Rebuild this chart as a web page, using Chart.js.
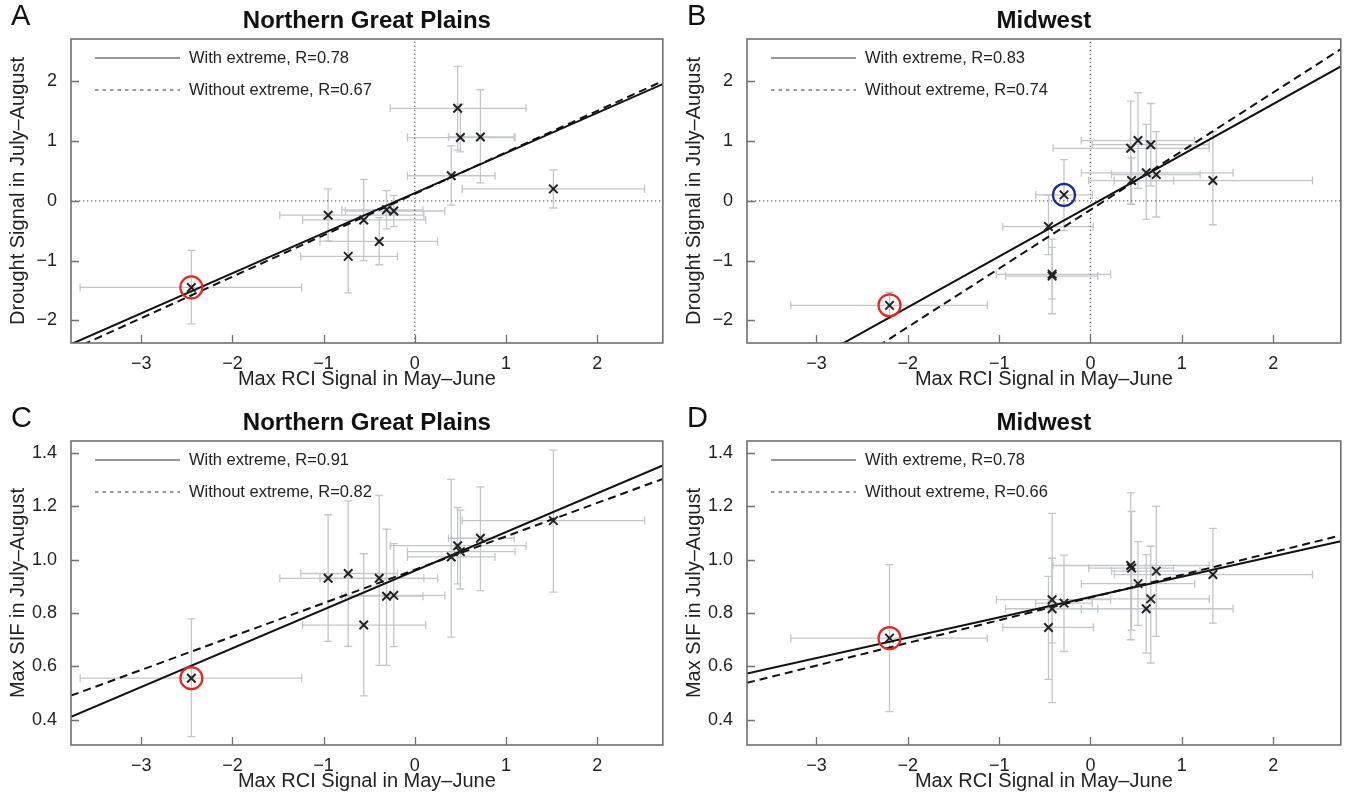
<!DOCTYPE html>
<html>
<head>
<meta charset="utf-8">
<script src="https://cdn.jsdelivr.net/npm/chart.js@4.4.1/dist/chart.umd.min.js"></script>
<style>
    html, body { margin: 0; padding: 0; background: #fff; }
    body { width: 1354px; height: 798px; position: relative; overflow: hidden; }
    .panel { position: absolute; }
</style>
</head>
<body>
<div class="panel" style="left:0px;top:0px"><canvas id="chartA" width="676" height="396"></canvas></div>
<div class="panel" style="left:676px;top:0px"><canvas id="chartB" width="678" height="396"></canvas></div>
<div class="panel" style="left:0px;top:402px"><canvas id="chartC" width="676" height="396"></canvas></div>
<div class="panel" style="left:676px;top:402px"><canvas id="chartD" width="678" height="396"></canvas></div>
<script>
// Northern Great Plains: RCI signal (x) with its range, shared by panels A and C
const rciNGP   = [-2.45, -0.95, -0.73, -0.56, -0.39, -0.31, -0.23, 0.40, 0.47, 0.50, 0.72, 1.52];
const rciNGPLo = [-3.67, -1.48, -1.25, -1.23, -1.04, -0.80, -0.76, -0.08, -0.27, -0.08, 0.37, 0.52];
const rciNGPHi = [-1.24, 0.10, -0.19, 0.12, 0.25, 0.09, 0.33, 0.88, 1.22, 1.10, 1.09, 2.52];

// Panel A: drought signal
const droughtNGP   = [-1.45, -0.24, -0.93, -0.32, -0.68, -0.15, -0.17, 0.42, 1.55, 1.06, 1.07, 0.20];
const droughtNGPLo = [-2.06, -0.67, -1.54, -1.00, -1.07, -0.47, -0.43, -0.07, 0.85, 0.82, 0.30, -0.12];
const droughtNGPHi = [-0.83, 0.20, -0.33, 0.36, -0.28, 0.17, 0.09, 0.92, 2.25, 1.62, 1.86, 0.52];

// Panel C: max SIF
const sifNGP   = [0.556, 0.930, 0.948, 0.755, 0.930, 0.863, 0.866, 1.010, 1.052, 1.030, 1.080, 1.146];
const sifNGPLo = [0.337, 0.694, 0.675, 0.490, 0.604, 0.604, 0.674, 0.710, 0.909, 0.890, 0.884, 0.878];
const sifNGPHi = [0.778, 1.168, 1.220, 1.022, 1.240, 1.114, 1.060, 1.300, 1.195, 1.185, 1.272, 1.410];

// Midwest: RCI signal (x), shared by panels B and D
const rciMW   = [-2.20, -0.29, -0.46, -0.42, -0.42, 0.44, 0.52, 0.66, 0.45, 0.61, 0.72, 1.34];
const rciMWLo = [-3.28, -0.60, -0.96, -1.03, -0.93, -0.41, -0.10, 0.02, -0.02, -0.10, 0.23, 0.26];
const rciMWHi = [-1.13, 0.02, 0.03, 0.22, 0.08, 1.30, 1.14, 1.30, 0.91, 1.56, 1.20, 2.43];

// Panel B: drought signal
const droughtMW   = [-1.75, 0.10, -0.43, -1.23, -1.26, 0.88, 1.01, 0.94, 0.34, 0.47, 0.44, 0.34];
const droughtMWLo = [-1.97, -0.50, -0.90, -1.89, -1.64, -0.05, 0.21, 0.25, -0.06, -0.31, -0.27, -0.40];
const droughtMWHi = [-1.53, 0.69, 0.10, -0.64, -0.78, 1.67, 1.81, 1.63, 0.72, 1.28, 1.16, 1.16];

// Panel D: max SIF
const sifMW   = [0.706, 0.837, 0.746, 0.850, 0.816, 0.978, 0.910, 0.853, 0.968, 0.816, 0.957, 0.944];
const sifMWLo = [0.431, 0.656, 0.552, 0.465, 0.688, 0.700, 0.754, 0.613, 0.735, 0.650, 0.713, 0.762];
const sifMWHi = [0.981, 1.017, 0.937, 1.173, 1.005, 1.250, 1.067, 1.050, 1.180, 1.019, 1.199, 1.117];

// regression fits per panel A, B, C, D
const slopeWith        = [0.671, 0.851, 0.145, 0.0762];
const interceptWith    = [0.130, -0.080, 0.958, 0.860];
const slopeWithout     = [0.694, 0.982, 0.125, 0.0849];
const interceptWithout = [0.118, -0.150, 0.962, 0.858];
const rWith    = ['0.78', '0.83', '0.91', '0.78'];
const rWithout = ['0.67', '0.74', '0.82', '0.66'];

// tick labels
const rciTicks = [-3, -2, -1, 0, 1, 2];
const droughtTicks = [-2, -1, 0, 1, 2];
const sifTicks = [0.4, 0.6, 0.8, 1.0, 1.2, 1.4];

const FONT = '"Liberation Sans", Arial, Helvetica, sans-serif';
const minus = v => (v < 0 ? '\u2212' : '') + Math.abs(v);

function makePanel(id, n, p) {
    const pts = p.x.map((v, i) => ({ x: v, y: p.y[i] }));
    const fitLine = (m, b) => [{ x: p.xMin, y: b + m * p.xMin }, { x: p.xMax, y: b + m * p.xMax }];

    const datasets = [
        { data: pts, showLine: false, pointStyle: 'crossRot', pointRadius: 6,
          pointBorderColor: '#222', pointBorderWidth: 2, order: 0 },
        { data: p.circled.map(c => pts[c]), showLine: false, pointStyle: 'circle', pointRadius: 11,
          pointBorderColor: p.circleColors, pointBackgroundColor: 'rgba(0,0,0,0)', pointBorderWidth: 2.2, order: 1 },
        { data: fitLine(slopeWith[n], interceptWith[n]), showLine: true, pointRadius: 0,
          borderColor: '#111', borderWidth: 2, order: 2 },
        { data: fitLine(slopeWithout[n], interceptWithout[n]), showLine: true, pointRadius: 0,
          borderColor: '#111', borderWidth: 2, borderDash: [8, 5], order: 2 }
    ];
    if (p.zeroLines) {
        datasets.push({ data: [{ x: 0, y: p.yMin }, { x: 0, y: p.yMax }], showLine: true, pointRadius: 0,
            borderColor: '#666', borderWidth: 1.2, borderDash: [1.3, 2.7], order: 3 });
        datasets.push({ data: [{ x: p.xMin, y: 0 }, { x: p.xMax, y: 0 }], showLine: true, pointRadius: 0,
            borderColor: '#666', borderWidth: 1.2, borderDash: [1.3, 2.7], order: 3 });
    }

    // error bars, frame, inward ticks, legend and panel letter
    const decor = {
        id: 'decor' + id,
        beforeDatasetsDraw(chart) {
            const { ctx, chartArea: a, scales: { x, y } } = chart;
            ctx.save();
            ctx.beginPath();
            ctx.rect(a.left, a.top, a.width, a.height);
            ctx.clip();
            ctx.strokeStyle = '#c2c6c8';
            ctx.lineWidth = 1.3;
            p.x.forEach((v, i) => {
                const px = x.getPixelForValue(v), py = y.getPixelForValue(p.y[i]);
                const xl = x.getPixelForValue(p.xLo[i]), xh = x.getPixelForValue(p.xHi[i]);
                const yl = y.getPixelForValue(p.yLo[i]), yh = y.getPixelForValue(p.yHi[i]);
                ctx.beginPath();
                ctx.moveTo(xl, py); ctx.lineTo(xh, py);
                ctx.moveTo(xl, py - 4); ctx.lineTo(xl, py + 4);
                ctx.moveTo(xh, py - 4); ctx.lineTo(xh, py + 4);
                ctx.moveTo(px, yl); ctx.lineTo(px, yh);
                ctx.moveTo(px - 4, yl); ctx.lineTo(px + 4, yl);
                ctx.moveTo(px - 4, yh); ctx.lineTo(px + 4, yh);
                ctx.stroke();
            });
            ctx.restore();
        },
        afterDraw(chart) {
            const { ctx, chartArea: a, scales: { x, y } } = chart;
            ctx.save();
            ctx.strokeStyle = '#707070';
            ctx.lineWidth = 1.3;
            ctx.beginPath();
            x.ticks.forEach(t => {
                const px = Math.round(x.getPixelForValue(t.value)) + 0.5;
                ctx.moveTo(px, a.bottom); ctx.lineTo(px, a.bottom - 8);
            });
            y.ticks.forEach(t => {
                const py = Math.round(y.getPixelForValue(t.value)) + 0.5;
                ctx.moveTo(a.left, py); ctx.lineTo(a.left + 8, py);
            });
            ctx.stroke();
            ctx.lineWidth = 1.6;
            ctx.strokeRect(a.left, a.top, a.width, a.height);

            // legend
            const lx = a.left + 24, ly1 = a.top + 19, ly2 = a.top + 51;
            ctx.strokeStyle = '#333';
            ctx.lineWidth = 1.2;
            ctx.beginPath(); ctx.moveTo(lx, ly1); ctx.lineTo(lx + 85, ly1); ctx.stroke();
            ctx.setLineDash([3.5, 4]);
            ctx.beginPath(); ctx.moveTo(lx, ly2); ctx.lineTo(lx + 85, ly2); ctx.stroke();
            ctx.setLineDash([]);
            ctx.fillStyle = '#222';
            ctx.font = '16.5px ' + FONT;
            ctx.textBaseline = 'middle';
            ctx.textAlign = 'left';
            ctx.fillText('With extreme, R=' + rWith[n], a.left + 118, ly1);
            ctx.fillText('Without extreme, R=' + rWithout[n], a.left + 118, ly2);

            // panel letter
            ctx.fillStyle = '#111';
            ctx.font = '29px ' + FONT;
            ctx.textBaseline = 'alphabetic';
            ctx.fillText(id, 11, 25);
            ctx.restore();
        }
    };

    return new Chart(document.getElementById('chart' + id), {
        type: 'scatter',
        data: { datasets },
        plugins: [decor],
        options: {
            responsive: false,
            animation: false,
            events: [],
            layout: { padding: { left: 0, right: p.padRight, top: 0, bottom: 0 } },
            plugins: {
                legend: { display: false },
                tooltip: { enabled: false },
                title: {
                    display: true, text: p.title, fullSize: false, color: '#111',
                    font: { family: FONT, size: 24, weight: 'bold' },
                    padding: { top: 6.6, bottom: 3.6 }
                }
            },
            scales: {
                x: {
                    type: 'linear', min: p.xMin, max: p.xMax,
                    afterBuildTicks: s => { s.ticks = rciTicks.map(v => ({ value: v })); },
                    afterFit: s => { s.height = 53; },
                    grid: { display: false, drawTicks: false },
                    border: { display: false },
                    ticks: { font: { family: FONT, size: 18 }, color: '#222', padding: 10,
                             maxRotation: 0, autoSkip: false, callback: v => minus(v) },
                    title: { display: true, text: 'Max RCI Signal in May\u2013June', color: '#222',
                             font: { family: FONT, size: 20 }, padding: { top: 0, bottom: 4.5 } }
                },
                y: {
                    type: 'linear', min: p.yMin, max: p.yMax,
                    afterBuildTicks: s => { s.ticks = p.yTicks.map(v => ({ value: v })); },
                    afterFit: s => { s.width = 71; },
                    grid: { display: false, drawTicks: false },
                    border: { display: false },
                    ticks: { font: { family: FONT, size: 18 }, color: '#222', padding: 14,
                             autoSkip: false, callback: p.yFormat },
                    title: { display: true, text: p.yTitle, color: '#222',
                             font: { family: FONT, size: 20 }, padding: { top: 6.5, bottom: 0 } }
                }
            }
        }
    });
}

const droughtTitle = 'Drought Signal in July\u2013August';
const sifTitle = 'Max SIF in July\u2013August';

makePanel('A', 0, {
    title: 'Northern Great Plains', x: rciNGP, xLo: rciNGPLo, xHi: rciNGPHi,
    y: droughtNGP, yLo: droughtNGPLo, yHi: droughtNGPHi,
    xMin: -3.77, xMax: 2.72, yMin: -2.38, yMax: 2.71, yTicks: droughtTicks, yFormat: v => minus(v),
    yTitle: droughtTitle, zeroLines: true, circled: [0], circleColors: ['#e8261f'], padRight: 11
});
makePanel('B', 1, {
    title: 'Midwest', x: rciMW, xLo: rciMWLo, xHi: rciMWHi,
    y: droughtMW, yLo: droughtMWLo, yHi: droughtMWHi,
    xMin: -3.76, xMax: 2.74, yMin: -2.38, yMax: 2.71, yTicks: droughtTicks, yFormat: v => minus(v),
    yTitle: droughtTitle, zeroLines: true, circled: [0, 1], circleColors: ['#e8261f', '#1c2a96'], padRight: 7
});
makePanel('C', 2, {
    title: 'Northern Great Plains', x: rciNGP, xLo: rciNGPLo, xHi: rciNGPHi,
    y: sifNGP, yLo: sifNGPLo, yHi: sifNGPHi,
    xMin: -3.77, xMax: 2.72, yMin: 0.306, yMax: 1.444, yTicks: sifTicks, yFormat: v => v.toFixed(1),
    yTitle: sifTitle, zeroLines: false, circled: [0], circleColors: ['#e8261f'], padRight: 11
});
makePanel('D', 3, {
    title: 'Midwest', x: rciMW, xLo: rciMWLo, xHi: rciMWHi,
    y: sifMW, yLo: sifMWLo, yHi: sifMWHi,
    xMin: -3.76, xMax: 2.74, yMin: 0.306, yMax: 1.444, yTicks: sifTicks, yFormat: v => v.toFixed(1),
    yTitle: sifTitle, zeroLines: false, circled: [0], circleColors: ['#e8261f'], padRight: 7
});
</script>
</body>
</html>
